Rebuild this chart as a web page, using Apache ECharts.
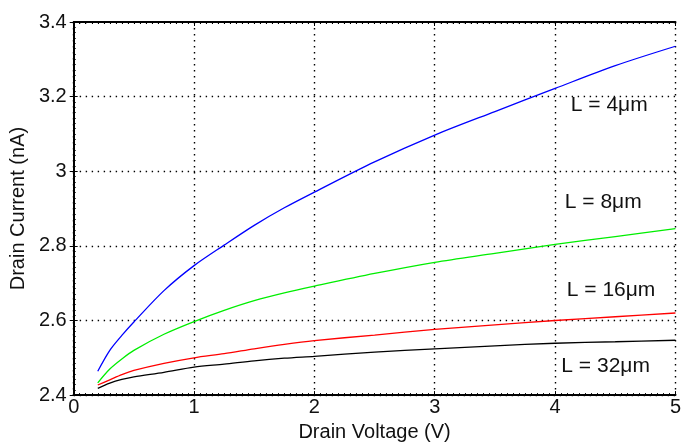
<!DOCTYPE html>
<html>
<head>
<meta charset="utf-8">
<script src="https://cdn.jsdelivr.net/npm/echarts@6/dist/echarts.min.js"></script>
<style>
  html, body { margin: 0; padding: 0; background: #fff; }
  #chart { width: 684px; height: 447px; }
</style>
</head>
<body>
<div id="chart"></div>
<script>
const drainVoltage = [0.2, 0.3, 0.4, 0.5, 0.75, 1, 1.25, 1.5, 1.75, 2, 2.5, 3, 3.5, 4, 4.5, 5]

const currentL4 = [2.464, 2.520, 2.560, 2.596, 2.680, 2.747, 2.802, 2.855, 2.902, 2.944, 3.025, 3.097, 3.160, 3.222, 3.283, 3.335]
const currentL8 = [2.433, 2.470, 2.497, 2.520, 2.563, 2.597, 2.627, 2.653, 2.674, 2.692, 2.726, 2.756, 2.780, 2.804, 2.825, 2.846]
const currentL16 = [2.427, 2.441, 2.455, 2.466, 2.485, 2.500, 2.511, 2.524, 2.536, 2.546, 2.561, 2.576, 2.588, 2.600, 2.610, 2.620]
const currentL32 = [2.418, 2.432, 2.442, 2.449, 2.461, 2.475, 2.483, 2.492, 2.499, 2.504, 2.515, 2.524, 2.532, 2.539, 2.543, 2.547]

// curve annotations, placed in data units
const labelText = ['L = 4\u03bcm', 'L = 8\u03bcm', 'L = 16\u03bcm', 'L = 32\u03bcm']
const labelV = [4.45, 4.40, 4.465, 4.42]
const labelI = [3.178, 2.918, 2.68, 2.478]

const xTicks = [0, 5, 1]
const yTicks = [2.4, 3.4, 0.2]

const pairs = (ys) => drainVoltage.map((v, i) => [v, ys[i]])

const font = '"Liberation Sans", Arial, sans-serif'
const dotted = { color: '#000', width: 1.4, type: [1.4, 4.6] }

const chart = echarts.init(document.getElementById('chart'))

const lineSeries = (data, color) => ({
  type: 'line',
  data: pairs(data),
  smooth: 0.3,
  showSymbol: false,
  lineStyle: { color, width: 1.3 },
  itemStyle: { color },
  z: 3,
})

chart.setOption({
  animation: false,
  grid: { left: 71, right: 1, top: 22, bottom: 45 },
  xAxis: [
    {
      type: 'value',
      min: xTicks[0],
      max: xTicks[1],
      interval: xTicks[2],
      name: 'Drain Voltage (V)',
      nameLocation: 'middle',
      nameGap: 21,
      nameTextStyle: { fontFamily: font, fontSize: 20, color: '#111' },
      axisLine: { lineStyle: { color: '#000', width: 2 } },
      axisTick: { inside: true, length: 4, lineStyle: { color: '#000' } },
      minorTick: { show: true, splitNumber: 20, length: 2, lineStyle: { color: '#000' } },
      axisLabel: { fontFamily: font, fontSize: 20, color: '#111', margin: 2 },
      splitLine: { show: true, lineStyle: dotted },
    },
    {
      type: 'value',
      position: 'top',
      min: xTicks[0],
      max: xTicks[1],
      interval: xTicks[2],
      axisLine: { lineStyle: { color: '#000', width: 2 } },
      axisTick: { inside: true, length: 4, lineStyle: { color: '#000' } },
      minorTick: { show: true, splitNumber: 20, length: 2, lineStyle: { color: '#000' } },
      axisLabel: { show: false },
      splitLine: { show: false },
    },
  ],
  yAxis: [
    {
      type: 'value',
      min: yTicks[0],
      max: yTicks[1],
      interval: yTicks[2],
      name: 'Drain Current (nA)',
      nameLocation: 'middle',
      nameGap: 44,
      nameTextStyle: { fontFamily: font, fontSize: 20, color: '#111' },
      axisLine: { show: true, lineStyle: { color: '#000', width: 2 } },
      axisTick: { show: true, inside: true, length: 4, lineStyle: { color: '#000' } },
      minorTick: { show: true, splitNumber: 14, length: 2, lineStyle: { color: '#000' } },
      axisLabel: { fontFamily: font, fontSize: 20, color: '#111', margin: 7 },
      splitLine: { show: true, lineStyle: dotted },
    },
    {
      type: 'value',
      position: 'right',
      min: yTicks[0],
      max: yTicks[1],
      interval: yTicks[2],
      axisLine: { show: false },
      axisTick: { show: true, inside: true, length: 4, lineStyle: { color: '#000' } },
      axisLabel: { show: false },
      splitLine: { show: false },
    },
  ],
  series: [
    lineSeries(currentL4, '#0000ff'),
    lineSeries(currentL8, '#00ee00'),
    lineSeries(currentL16, '#ff0000'),
    lineSeries(currentL32, '#000000'),
    {
      type: 'scatter',
      symbolSize: 1,
      itemStyle: { color: 'rgba(0,0,0,0)' },
      data: labelText.map((t, i) => [labelV[i], labelI[i], t]),
      label: {
        show: true,
        position: 'inside',
        formatter: (p) => p.value[2],
        fontFamily: font,
        fontSize: 21,
        color: '#111',
        opacity: 1,
        textBorderWidth: 0,
      },
      z: 4,
    },
  ],
})
</script>
</body>
</html>
